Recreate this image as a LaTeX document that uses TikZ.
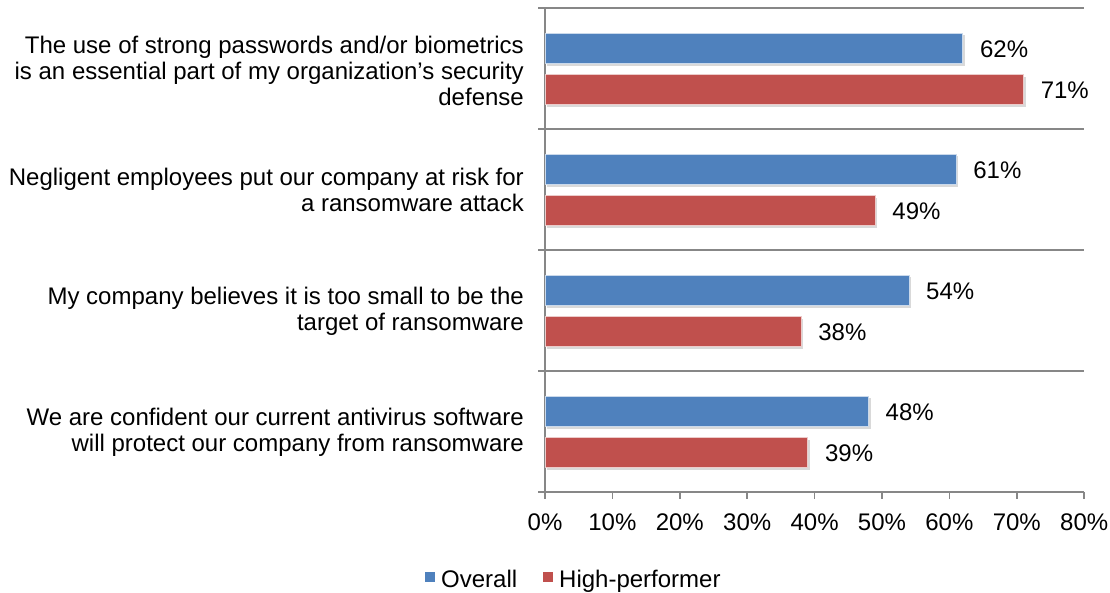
\documentclass[tikz,border=0pt]{standalone}
\usepackage{fontspec}
\setmainfont{Liberation Sans}
\definecolor{ovblue}{HTML}{4F81BD}
\definecolor{hpred}{HTML}{C0504D}
\definecolor{axisgray}{HTML}{878787}
\begin{document}
\begin{tikzpicture}[x=1pt,y=-1pt,
  every node/.style={font=\fontsize{24}{26}\selectfont, inner sep=0pt},
  axisline/.style={draw=axisgray, line width=1.6pt},
  shadowbox/.style={fill=black, opacity=0.15},
  ovbar/.style={fill=ovblue, draw=white!70!ovblue, line width=0.8pt},
  hpbar/.style={fill=hpred, draw=white!70!hpred, line width=0.8pt},
  catlabel/.style={anchor=east, align=right},
  vallabel/.style={anchor=west},
  ticklabel/.style={anchor=base}]
\useasboundingbox (0,0) rectangle (1110,592);
% gridlines and axes
\foreach \k in {0,1,2,3} {
  \draw[axisline] (538,{8+121*\k}) -- (1084,{8+121*\k});
}
\draw[axisline] (538,492) -- (1084,492);
\draw[axisline] (545,8) -- (545,499);
\foreach \k in {1,...,8} {
  \draw[axisline] ({545+67.4*\k},492) -- ({545+67.4*\k},499);
}
\foreach \k in {0,...,8} {
  \node[ticklabel] (tick\k) at ({545+67.4*\k},530) {\pgfmathparse{int(10*\k)}\pgfmathresult\%};
}
% bars
\foreach \i/\a/\b in {0/62/71,1/61/49,2/54/38,3/48/39} {
  \pgfmathsetmacro\t{8+121*\i}
  \pgfmathsetmacro\xa{545+6.74*\a}
  \pgfmathsetmacro\xb{545+6.74*\b}
  \fill[shadowbox] (547,{\t+27}) rectangle ({\xa+2},{\t+57.5});
  \fill[shadowbox] (547,{\t+68.5}) rectangle ({\xb+2},{\t+99});
  \draw[ovbar] (545,{\t+25}) rectangle (\xa,{\t+55});
  \draw[hpbar] (545,{\t+66.5}) rectangle (\xb,{\t+96.5});
  \node[vallabel] (ov\i) at ({\xa+17},{\t+41}) {\a\%};
  \node[vallabel] (hp\i) at ({\xb+17},{\t+82}) {\b\%};
}
% category labels
\node[catlabel] (c0) at (524,71) {The use of strong passwords and/or biometrics\\is an essential part of my organization’s security\\defense};
\node[catlabel] (c1) at (524,190) {Negligent employees put our company at risk for\\a ransomware attack};
\node[catlabel] (c2) at (524,311) {My company believes it is too small to be the\\target of ransomware};
\node[catlabel] (c3) at (524,432) {We are confident our current antivirus software\\will protect our company from ransomware};
% legend
\fill[ovblue] (425,572) rectangle (435,582);
\node[anchor=base west] (lg1) at (441,587) {Overall};
\fill[hpred] (543,572) rectangle (553,582);
\node[anchor=base west] (lg2) at (559,587) {High-performer};
\end{tikzpicture}
\end{document}
